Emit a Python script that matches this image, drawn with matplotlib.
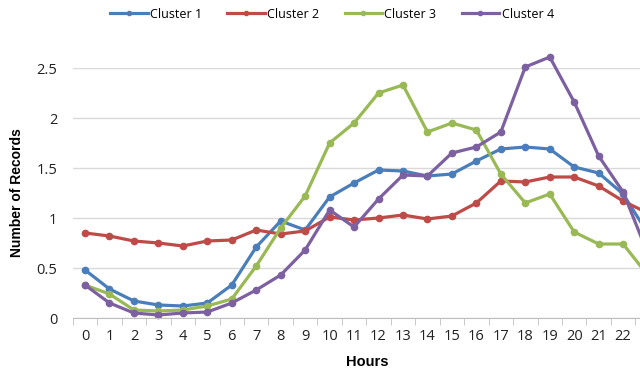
import matplotlib.pyplot as plt
import numpy as np

hours = list(range(24))
cluster1 = [0.48, 0.29, 0.17, 0.13, 0.12, 0.15, 0.33, 0.71, 0.97, 0.88, 1.21, 1.35,
            1.48, 1.47, 1.42, 1.44, 1.57, 1.69, 1.71, 1.69, 1.51, 1.45, 1.24, 0.85]
cluster2 = [0.85, 0.82, 0.77, 0.75, 0.72, 0.77, 0.78, 0.88, 0.84, 0.87, 1.01, 0.98,
            1.00, 1.03, 0.99, 1.02, 1.15, 1.37, 1.36, 1.41, 1.41, 1.32, 1.17, 1.05]
cluster3 = [0.33, 0.24, 0.08, 0.07, 0.08, 0.12, 0.19, 0.52, 0.90, 1.22, 1.75, 1.95,
            2.25, 2.33, 1.86, 1.95, 1.88, 1.44, 1.15, 1.24, 0.86, 0.74, 0.74, 0.43]
cluster4 = [0.33, 0.15, 0.05, 0.03, 0.05, 0.06, 0.15, 0.28, 0.43, 0.68, 1.08, 0.91,
            1.19, 1.43, 1.42, 1.65, 1.71, 1.86, 2.51, 2.61, 2.16, 1.62, 1.26, 0.65]
names = ['Cluster 1', 'Cluster 2', 'Cluster 3', 'Cluster 4']
colors = ['#4A7EBB', '#BE4B48', '#98B954', '#7D60A0']

fig = plt.figure(figsize=(6.4, 3.79), dpi=100)
# axes runs past the right edge, like the cropped original
ax = fig.add_axes([72.8 / 640, 61 / 379, 587 / 640, 250 / 379])

for vals, name, c in zip([cluster1, cluster2, cluster3, cluster4], names, colors):
    ax.plot(hours, vals, color=c, lw=2.3, marker='o', ms=4.5, label=name, clip_on=False)

ax.set_xlim(-0.5, 23.5)
ax.set_ylim(0, 2.5)
ax.set_yticks([0, 0.5, 1, 1.5, 2, 2.5])
ax.set_yticklabels(['0', '0.5', '1', '1.5', '2', '2.5'])
ax.set_xticks(hours)
ax.set_xticks(np.arange(-0.5, 24, 1), minor=True)
ax.tick_params(axis='x', which='major', length=0, pad=8, labelsize=10.5, labelcolor='#222222')
ax.tick_params(axis='x', which='minor', length=5, color='#BFBFBF')
ax.tick_params(axis='y', length=0, pad=11, labelsize=10.5, labelcolor='#222222')
for lab in ax.get_xticklabels() + ax.get_yticklabels():
    lab.set_family('Open Sans')

ax.grid(axis='y', color='#D9D9D9', lw=1)
ax.set_axisbelow(True)
for s in ['top', 'right', 'left']:
    ax.spines[s].set_visible(False)
ax.spines['bottom'].set_color('#BFBFBF')

ax.set_xlabel('Hours', fontsize=10.5, fontweight='bold', family='Liberation Sans')
ax.xaxis.set_label_coords(294 / 587, -37 / 250)
ax.text(-56 / 587, 0.5, 'Number of Records', transform=ax.transAxes, rotation=90,
        ha='center', va='center', fontsize=10, fontweight='bold', family='Liberation Sans')

leg = fig.legend(loc='center', bbox_to_anchor=(332 / 640, 1 - 14 / 379), ncol=4, frameon=False,
                 handlelength=3.0, columnspacing=2.0, handletextpad=0.2,
                 prop={'family': 'Open Sans', 'size': 9})
for h in leg.legend_handles:
    h.set_markersize(3)

fig.savefig('out.png', dpi=100)
